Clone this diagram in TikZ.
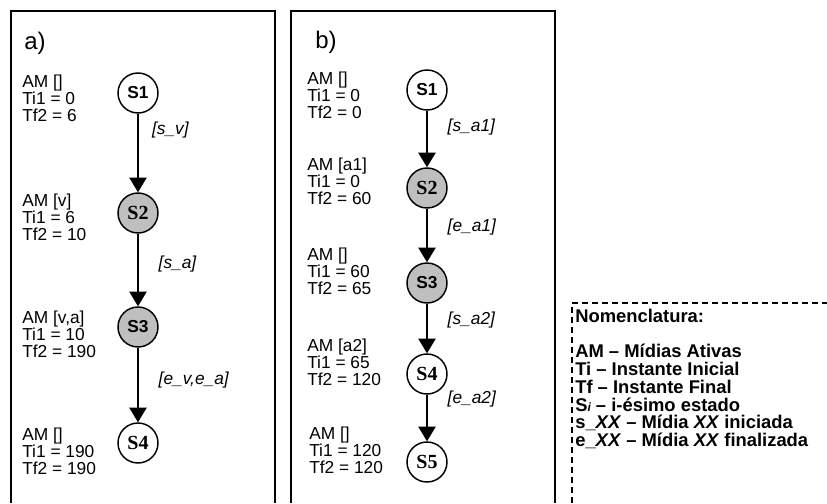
\documentclass[tikz,border=0pt]{standalone}
\usepackage{fontspec}
\setmainfont{Liberation Sans}
\newfontfamily\timesfont{Liberation Serif}
\usetikzlibrary{arrows.meta}

\begin{document}
\begin{tikzpicture}[x=0.75pt,y=-0.75pt,
    state/.style={draw,circle,line width=1.1pt,minimum size=30pt,inner sep=0pt,font=\fontsize{13}{13}\selectfont\bfseries},
    active/.style={state,fill=black!25},
    serif/.style={font=\fontsize{15}{15}\selectfont\timesfont\bfseries},
    vars/.style={anchor=west,align=left,inner sep=0pt,font=\fontsize{13}{12.8}\selectfont},
    event/.style={anchor=west,inner sep=0pt,xshift=15pt,font=\fontsize{13}{14}\selectfont\itshape},
    trans/.style={line width=1.1pt,-{Triangle[width=13pt,length=11pt]}}]
  \useasboundingbox (0,0) rectangle (827,503);
  %% Panels
  \draw[line width=1.1pt] (11,503) -- (11,11) -- (275,11) -- (275,503);
  \draw[line width=1.1pt] (291,503) -- (291,11) -- (555,11) -- (555,503);
  \node[anchor=west,inner sep=0pt,font=\fontsize{18}{18}\selectfont] (tita) at (24,43) {a)};
  \node[anchor=west,inner sep=0pt,font=\fontsize{18}{18}\selectfont] (titb) at (315,42) {b)};

  %% a) states
  \node[state] (a1) at (138,93) {S1};
  \node[active,serif] (a2) at (138,213) {S2};
  \node[active] (a3) at (138,327) {S3};
  \node[state,serif] (a4) at (138,443) {S4};
  \node[vars] (va1) at (22,98) {AM []\\Ti1 = 0\\Tf2 = 6};
  \node[vars] (va2) at (22,217) {AM [v]\\Ti1 = 6\\Tf2 = 10};
  \node[vars] (va3) at (22,334) {AM [v,a]\\Ti1 = 10\\Tf2 = 190};
  \node[vars] (va4) at (22,451) {AM []\\Ti1 = 190\\Tf2 = 190};
  \draw[trans] (a1) -- (a2) node[event,pos=0.21,xshift=-5pt] {[s\_v]};
  \draw[trans] (a2) -- (a3) node[event,pos=0.42] {[s\_a]};
  \draw[trans] (a3) -- (a4) node[event,pos=0.43] {[e\_v,e\_a]};

  %% b) states
  \node[state] (b1) at (427,90) {S1};
  \node[active,serif] (b2) at (427,188) {S2};
  \node[active] (b3) at (427,283) {S3};
  \node[state,serif] (b4) at (427,374) {S4};
  \node[state,serif] (b5) at (427,462) {S5};
  \node[vars] (vb1) at (307,95) {AM []\\Ti1 = 0\\Tf2 = 0};
  \node[vars] (vb2) at (307,181) {AM [a1]\\Ti1 = 0\\Tf2 = 60};
  \node[vars] (vb3) at (307,271) {AM []\\Ti1 = 60\\Tf2 = 65};
  \node[vars] (vb4) at (307,362) {AM [a2]\\Ti1 = 65\\Tf2 = 120};
  \node[vars] (vb5) at (309,450) {AM []\\Ti1 = 120\\Tf2 = 120};
  \draw[trans] (b1) -- (b2) node[event,pos=0.29] {[s\_a1]};
  \draw[trans] (b2) -- (b3) node[event,pos=0.35] {[e\_a1]};
  \draw[trans] (b3) -- (b4) node[event,pos=0.33] {[s\_a2]};
  \draw[trans] (b4) -- (b5) node[event,pos=0.1] {[e\_a2]};

  %% Nomenclature
  \draw[line width=1pt,dash pattern=on 4.5pt off 3pt] (572,503) -- (572,303) -- (827,303);
  \node[anchor=north west,align=left,inner sep=0pt,font=\fontsize{13.8}{13.3}\selectfont\bfseries] (legend) at (575,309)
    {Nomenclatura:\\[13.2pt]
     AM -- Mídias Ativas\\
     Ti -- Instante Inicial\\
     Tf -- Instante Final\\
     S\raisebox{-0.5pt}{\fontsize{9}{9}\selectfont\itshape i} -- i-ésimo estado\\
     s\_\textit{XX} -- Mídia \textit{XX} iniciada\\
     e\_\textit{XX} -- Mídia \textit{XX} finalizada};
\end{tikzpicture}
\end{document}
